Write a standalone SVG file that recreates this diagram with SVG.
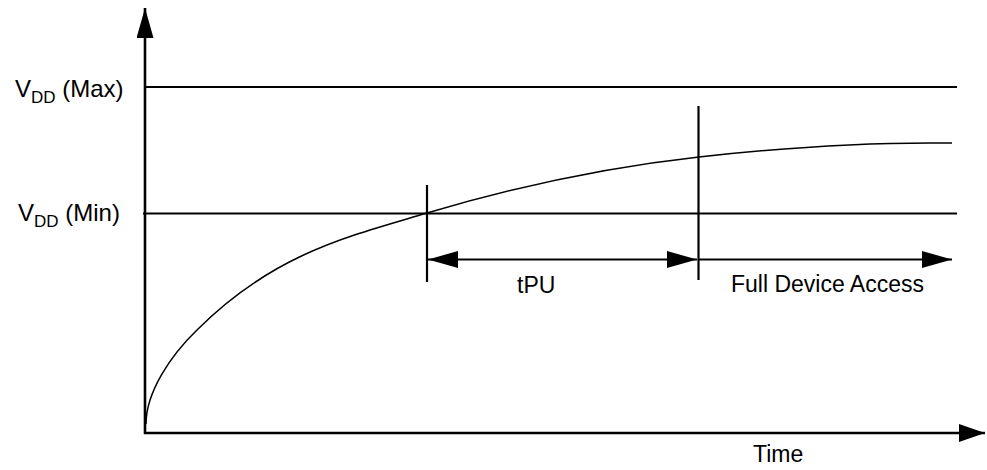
<svg xmlns="http://www.w3.org/2000/svg" width="987" height="470" viewBox="0 0 987 470">
<style>
  .ln { stroke: #000; stroke-width: 2.2; fill: none; }
  .ax { stroke: #000; stroke-width: 2.6; fill: none; }
  .crv { stroke: #000; stroke-width: 1.5; fill: none; }
  .t { font-family: "Liberation Sans", Arial, Helvetica, sans-serif; font-size: 23px; fill: #000; }
  .lv { font-size: 24px; }
  .sub { font-size: 17px; }
</style>
<defs>
  <marker id="ah" markerUnits="userSpaceOnUse" markerWidth="30" markerHeight="17" refX="30" refY="8.5" orient="auto-start-reverse" viewBox="0 0 30 17">
    <path d="M0,0 L30,8.5 L0,17 z" fill="#000"/>
  </marker>
  <marker id="axh" markerUnits="userSpaceOnUse" markerWidth="26" markerHeight="18" refX="26" refY="9" orient="auto" viewBox="0 0 26 18">
    <path d="M0,0 L26,9 L0,18 z" fill="#000"/>
  </marker>
</defs>

<g id="axes">
  <line class="ax" x1="145" y1="434" x2="145" y2="8" marker-end="url(#ah)"/>
  <line class="ax" x1="144" y1="433" x2="985" y2="433" marker-end="url(#axh)"/>
</g>

<g id="levels">
  <line class="ln" x1="145" y1="87" x2="957" y2="87"/>
  <line class="ln" x1="143" y1="213.5" x2="957" y2="213.5"/>
</g>

<g id="curve">
  <path class="crv" d="M146,424 C146,392 171,355 197,330 C274,253 350,236 427,213 C518,186 608,167 699,157 C776,148.5 853,143 930,143 L952,143"/>
</g>

<g id="markers">
  <line class="ln" x1="427" y1="185" x2="427" y2="282"/>
  <line class="ln" x1="698.5" y1="106" x2="698.5" y2="280"/>
</g>

<g id="connectors">
  <line class="ln" x1="428" y1="259.5" x2="697" y2="259.5" marker-start="url(#ah)" marker-end="url(#ah)"/>
  <line class="ln" x1="699" y1="259.5" x2="952" y2="259.5" marker-end="url(#ah)"/>
</g>

<g id="label-vddmax">
  <text class="t lv" x="15" y="97">V<tspan class="sub" dy="6">DD</tspan><tspan dy="-6"> (Max)</tspan></text>
</g>
<g id="label-vddmin">
  <text class="t lv" x="18" y="221">V<tspan class="sub" dy="6">DD</tspan><tspan dy="-6"> (Min)</tspan></text>
</g>
<g id="label-tpu">
  <text class="t" x="517" y="293">tPU</text>
</g>
<g id="label-fda">
  <text class="t" x="731" y="292">Full Device Access</text>
</g>
<g id="label-time">
  <text class="t" x="753" y="462">Time</text>
</g>
</svg>
